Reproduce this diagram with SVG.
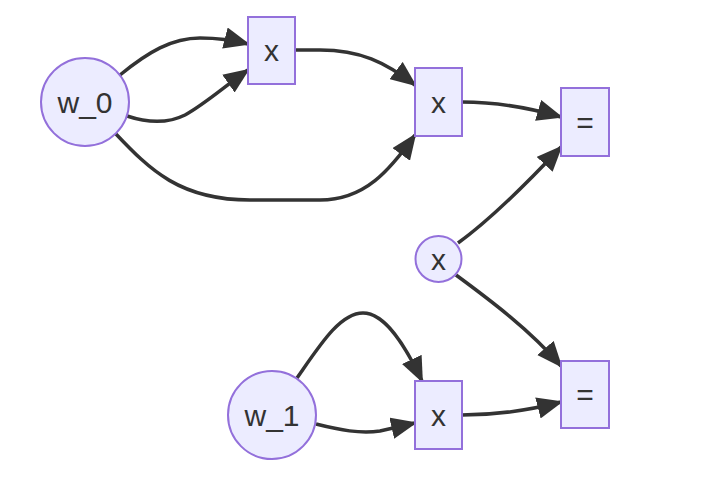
<svg xmlns="http://www.w3.org/2000/svg" width="716" height="490" viewBox="0 0 716 490">
<style>
.node{fill:#ECECFF;stroke:#9370DB;stroke-width:2}
.lbl{font-family:"Liberation Sans","DejaVu Sans",sans-serif;fill:#333;text-anchor:middle;dominant-baseline:central}
.edge{fill:none;stroke:#333;stroke-width:3.5}
</style>
<defs>
<marker id="arr" viewBox="0 0 12 10" refX="11" refY="5" markerUnits="userSpaceOnUse" markerWidth="26" markerHeight="22" orient="auto">
<path d="M0,0 L12,5 L0,10 z" fill="#333"/>
</marker>
</defs>
<rect width="716" height="490" fill="#fff"/>
<g id="connectors">
<path class="edge" marker-end="url(#arr)" d="M120,75 C148,52 172,38 200,38 Q225,38 248,44"/>
<path class="edge" marker-end="url(#arr)" d="M127,116 C145,122 165,125 185,115 C205,104 225,86 248,70"/>
<path class="edge" marker-end="url(#arr)" d="M115,133 C150,170 180,200 250,200 L320,200 C365,200 390,170 415,135"/>
<path class="edge" marker-end="url(#arr)" d="M295,50 L320,50 C360,50 385,62 415,85"/>
<path class="edge" marker-end="url(#arr)" d="M462,102 C500,102 530,108 561,117"/>
<path class="edge" marker-end="url(#arr)" d="M458,243 C490,220 530,180 561,147"/>
<path class="edge" marker-end="url(#arr)" d="M456,275 C490,300 530,330 561,366"/>
<path class="edge" marker-end="url(#arr)" d="M297,378 C320,345 340,313 363,313 C385,313 405,345 422,381"/>
<path class="edge" marker-end="url(#arr)" d="M316,424 C340,430 360,434 380,431 L415,423"/>
<path class="edge" marker-end="url(#arr)" d="M462,415 C500,415 530,410 561,402"/>
</g>
<g id="w_0"><circle class="node" cx="85" cy="102" r="44"/><text class="lbl" x="85" y="102" font-size="30">w_0</text></g>
<g id="mul1"><rect class="node" x="248" y="17" width="47" height="67"/><text class="lbl" x="271.5" y="50.5" font-size="30">x</text></g>
<g id="mul2"><rect class="node" x="415" y="68" width="47" height="68"/><text class="lbl" x="438.5" y="102" font-size="30">x</text></g>
<g id="eq1"><rect class="node" x="561" y="88" width="48" height="68"/><text class="lbl" x="585" y="122" font-size="30">=</text></g>
<g id="xin"><circle class="node" cx="438.5" cy="259" r="23"/><text class="lbl" x="438.5" y="259" font-size="30">x</text></g>
<g id="w_1"><circle class="node" cx="272" cy="415" r="44"/><text class="lbl" x="272" y="415" font-size="30">w_1</text></g>
<g id="mul3"><rect class="node" x="415" y="381" width="47" height="68"/><text class="lbl" x="438.5" y="415" font-size="30">x</text></g>
<g id="eq2"><rect class="node" x="561" y="361" width="48" height="67"/><text class="lbl" x="585" y="394.5" font-size="30">=</text></g>
</svg>
